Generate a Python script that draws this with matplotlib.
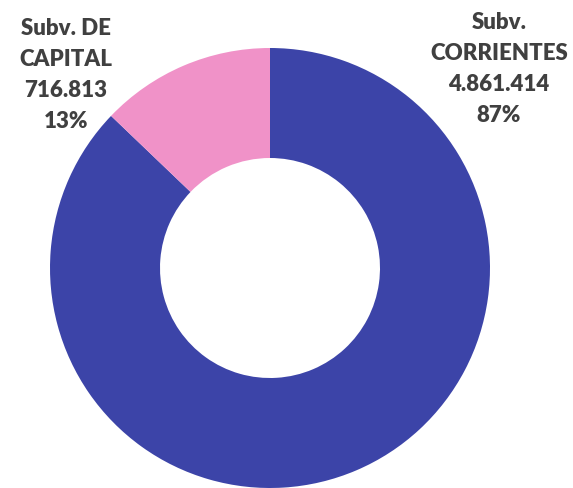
import matplotlib.pyplot as plt

labels = ['Subv.\nCORRIENTES', 'Subv. DE\nCAPITAL']
values = [4861414, 716813]
colors = ['#3C44A8', '#F092C8']

W, H = 573, 489
cx, cy, R = 270, 269, 220

fig = plt.figure(figsize=(W / 100, H / 100), dpi=100)
ax = fig.add_axes([0, 0, 1, 1])
ax.pie(values, colors=colors, startangle=90, counterclock=False,
       radius=1, wedgeprops=dict(width=0.5, linewidth=0))
ax.set_xlim(-cx / R, (W - cx) / R)
ax.set_ylim(-(H - cy) / R, cy / R)
ax.axis('off')

total = sum(values)
pos = [(499, 69), (66, 75)]
for lab, v, (px, py) in zip(labels, values, pos):
    pct = round(100 * v / total)
    txt = f"{lab}\n{v:,}".replace(',', '.') + f"\n{pct}%"
    ax.text((px - cx) / R, (cy - py) / R, txt, ha='center', va='center',
            fontsize=16, fontweight='heavy', family='Lato', color='#404040',
            linespacing=1.6)

fig.savefig('out.png', dpi=100)
